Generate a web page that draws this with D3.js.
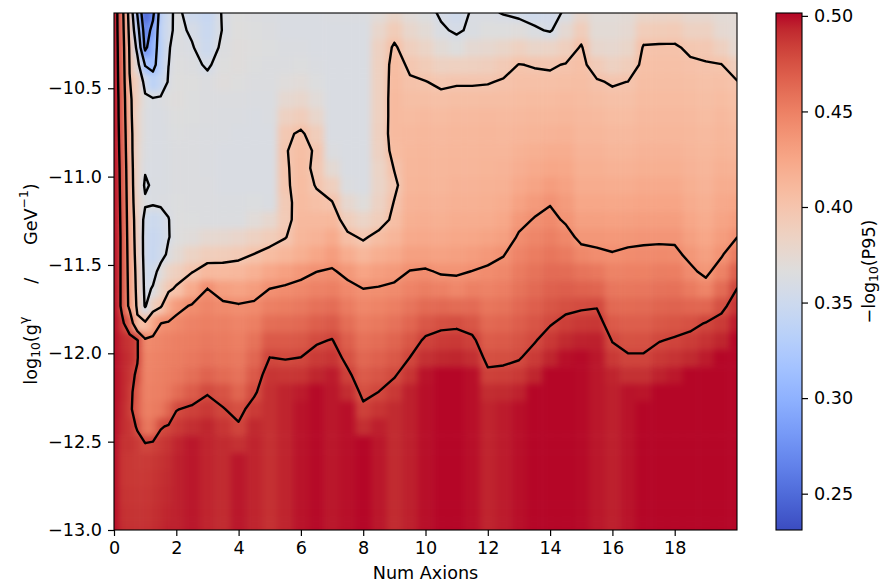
<!DOCTYPE html>
<html><head><meta charset="utf-8">
<script src="https://cdn.jsdelivr.net/npm/d3@7"></script>
<style>
html,body{margin:0;padding:0;background:#fff;}
svg{display:block;font-family:"DejaVu Sans",sans-serif;}
</style></head>
<body>
<svg id="chart" width="885" height="585"></svg>
<script>
// ---------------- data ----------------
// grid node positions (Num Axions, log10 g)
const xNodes = [0,0.25,0.5,0.75,1,1.25,1.5,1.75,2,2.5,3,3.5,4,4.5,5,5.5,6,6.5,7,7.5,8,8.5,9,9.5,10,10.5,11,11.5,12,12.5,13,13.5,14,14.5,15,15.5,16,16.5,17,17.5,18,18.5,19,19.5,20];
const yNodes = [-13.0,-12.902,-12.805,-12.707,-12.610,-12.512,-12.415,-12.317,-12.220,-12.122,-12.025,-11.927,-11.830,-11.732,-11.635,-11.537,-11.440,-11.342,-11.244,-11.147,-11.049,-10.952,-10.854,-10.757,-10.659,-10.562,-10.464,-10.367,-10.269,-10.172,-10.074];
// -log10(P95): one column per x node, values from y=-13 (bottom) to top
const logP95 = [
[.500,.500,.500,.500,.500,.500,.500,.500,.500,.500,.500,.500,.500,.500,.500,.500,.500,.500,.500,.500,.500,.500,.500,.500,.500,.500,.500,.500,.500,.500,.500],
[.491,.490,.489,.488,.488,.489,.492,.493,.494,.494,.494,.492,.485,.476,.476,.476,.476,.476,.475,.474,.473,.472,.470,.468,.466,.465,.462,.460,.458,.455,.453],
[.490,.489,.488,.487,.487,.489,.488,.485,.486,.488,.490,.488,.466,.432,.430,.428,.426,.424,.422,.420,.418,.416,.413,.411,.408,.405,.401,.399,.397,.392,.387],
[.490,.489,.488,.487,.486,.486,.478,.468,.470,.476,.482,.482,.405,.395,.392,.390,.387,.385,.384,.380,.378,.378,.378,.380,.380,.385,.3885,.370,.352,.335,.318],
[.490,.489,.488,.487,.486,.481,.455,.450,.449,.448,.447,.4438,.4044,.357,.354,.352,.350,.350,.352,.363,.357,.362,.363,.364,.364,.365,.350,.318,.272,.262,.245],
[.491,.490,.489,.488,.487,.4832,.458,.452,.450,.449,.448,.4452,.424,.388,.362,.352,.345,.346,.349,.362,.363,.362,.362,.362,.362,.362,.335,.310,.305,.290,.272],
[.493,.492,.491,.490,.489,.486,.4787,.455,.451,.450,.449,.4467,.4398,.397,.380,.368,.352,.350,.352,.363,.362,.362,.362,.362,.362,.363,.345,.338,.335,.340,.338],
[.495,.494,.493,.492,.491,.489,.4816,.465,.455,.452,.451,.4488,.442,.420,.3955,.382,.364,.359,.3595,.363,.363,.363,.363,.363,.364,.366,.362,.3598,.359,.354,.352],
[.495,.495,.495,.495,.495,.494,.4864,.4793,.462,.455,.452,.4505,.4455,.4338,.4031,.388,.373,.367,.366,.365,.364,.364,.364,.365,.366,.368,.367,.366,.364,.365,.366],
[.497,.497,.497,.497,.497,.497,.4904,.4832,.470,.460,.455,.452,.449,.442,.4213,.3985,.3835,.369,.365,.364,.364,.364,.364,.364,.365,.365,.366,.364,.3615,.3574,.350],
[.494,.494,.494,.494,.494,.494,.4936,.4864,.4787,.466,.458,.454,.451,.4466,.4401,.410,.3895,.3745,.364,.364,.364,.363,.363,.363,.364,.364,.364,.358,.350,.348,.345],
[.492,.492,.492,.492,.492,.492,.488,.4808,.4744,.462,.456,.453,.450,.4438,.4306,.4094,.391,.376,.364,.363,.362,.362,.362,.363,.363,.364,.368,.366,.364,.361,.362],
[.497,.497,.497,.497,.497,.4896,.4816,.4759,.465,.458,.454,.451,.4475,.4417,.4273,.4109,.394,.379,.364,.363,.362,.362,.362,.362,.363,.364,.366,.368,.368,.367,.366],
[.494,.494,.494,.494,.494,.494,.4928,.4856,.4779,.4709,.4638,.4575,.4505,.4435,.4317,.4167,.4005,.385,.370,.3645,.362,.362,.362,.362,.362,.363,.364,.365,.366,.365,.364],
[.490,.490,.490,.490,.490,.490,.490,.490,.490,.488,.4802,.4708,.4605,.4503,.4401,.4243,.407,.391,.376,.3625,.362,.362,.362,.362,.363,.363,.364,.364,.365,.364,.363],
[.494,.494,.494,.494,.494,.494,.494,.494,.494,.4872,.4791,.4707,.4614,.4521,.4428,.4296,.4122,.399,.393,.394,.397,.398,.399,.396,.385,.375,.368,.364,.363,.362,.362],
[.498,.498,.498,.498,.498,.498,.498,.498,.496,.488,.4802,.472,.4631,.4542,.4453,.435,.418,.412,.410,.408,.407,.406,.405,.403,.390,.378,.370,.365,.363,.362,.362],
[.500,.500,.500,.500,.500,.500,.500,.500,.500,.4936,.4856,.478,.4683,.4585,.4488,.4398,.425,.415,.410,.404,.399,.396,.398,.390,.378,.370,.365,.363,.362,.362,.362],
[.497,.497,.497,.497,.497,.497,.497,.497,.497,.496,.488,.4808,.471,.461,.451,.442,.4318,.4215,.4113,.401,.388,.373,.364,.362,.362,.362,.362,.362,.362,.362,.363],
[.499,.499,.499,.499,.499,.499,.499,.499,.4912,.4832,.4753,.4682,.4604,.4525,.4447,.4354,.420,.4046,.3895,.376,.364,.362,.362,.362,.362,.362,.362,.362,.362,.362,.363],
[.501,.501,.501,.501,.501,.501,.4904,.4832,.4763,.4702,.464,.4585,.4523,.4462,.4401,.4267,.4119,.397,.382,.3685,.362,.362,.362,.362,.362,.362,.362,.362,.362,.362,.363],
[.497,.497,.497,.497,.497,.497,.4952,.488,.4802,.4734,.4669,.461,.4544,.4479,.4413,.4313,.4188,.4063,.390,.384,.381,.382,.385,.387,.386,.386,.386,.386,.385,.378,.370],
[.492,.492,.492,.492,.492,.492,.492,.492,.4864,.4786,.4714,.465,.4579,.4507,.4436,.434,.422,.413,.405,.401,.396,.401,.407,.409,.409,.409,.408,.407,.403,.392,.380],
[.495,.495,.495,.495,.495,.495,.495,.495,.495,.488,.4802,.4727,.4645,.4563,.4482,.4406,.430,.422,.418,.415,.413,.412,.411,.410,.408,.405,.402,.397,.388,.378,.370],
[.499,.499,.499,.499,.499,.499,.499,.499,.499,.498,.4896,.4824,.4726,.4621,.4516,.4421,.430,.423,.419,.416,.414,.413,.412,.411,.409,.405,.4005,.392,.382,.372,.365],
[.501,.501,.501,.501,.501,.501,.501,.501,.501,.501,.4928,.4856,.476,.4627,.4493,.438,.428,.422,.418,.415,.413,.412,.411,.410,.408,.404,.397,.385,.372,.362,.358],
[.501,.501,.501,.501,.501,.501,.501,.501,.501,.501,.4936,.4864,.4769,.4615,.4462,.438,.430,.424,.420,.417,.415,.413,.412,.411,.409,.405,.3985,.386,.366,.358,.352],
[.499,.499,.499,.499,.499,.499,.499,.499,.499,.499,.4904,.4832,.4731,.4617,.4503,.4403,.432,.425,.420,.417,.415,.413,.412,.411,.409,.405,.3985,.387,.374,.3625,.362],
[.494,.494,.494,.494,.494,.494,.494,.494,.4912,.4832,.4759,.4697,.4628,.4559,.449,.4428,.435,.427,.421,.418,.416,.414,.413,.412,.410,.406,.399,.389,.376,.366,.362],
[.496,.496,.496,.496,.496,.496,.496,.496,.492,.484,.4767,.4708,.4643,.4577,.4511,.4452,.4392,.430,.424,.420,.417,.415,.413,.411,.409,.406,.4015,.394,.380,.366,.3594],
[.499,.499,.499,.499,.499,.499,.499,.499,.4944,.4864,.4789,.474,.4686,.4632,.4578,.453,.4476,.4422,.435,.428,.423,.419,.416,.413,.410,.407,.404,.4005,.386,.368,.356],
[.501,.501,.501,.501,.501,.501,.501,.501,.501,.4936,.4856,.4789,.4734,.468,.4625,.4575,.4521,.4466,.4411,.434,.427,.422,.418,.414,.411,.408,.404,.399,.380,.363,.352],
[.501,.501,.501,.501,.501,.501,.501,.501,.501,.501,.4936,.4864,.4788,.473,.4671,.4618,.4559,.450,.4441,.439,.432,.425,.420,.415,.411,.408,.404,.398,.382,.358,.355],
[.501,.501,.501,.501,.501,.501,.501,.501,.501,.501,.499,.492,.484,.4761,.4686,.4616,.4533,.4455,.438,.433,.428,.424,.420,.416,.412,.409,.405,.401,.388,.374,.362],
[.500,.500,.500,.500,.500,.500,.500,.500,.500,.500,.500,.4944,.4864,.4778,.4667,.4567,.4456,.436,.430,.425,.421,.418,.415,.412,.410,.408,.406,.404,.402,.390,.378],
[.497,.497,.497,.497,.497,.497,.497,.497,.497,.497,.497,.495,.4872,.4788,.465,.455,.4425,.436,.430,.425,.421,.418,.415,.412,.409,.406,.4016,.3925,.3775,.372,.370],
[.495,.495,.495,.495,.495,.495,.495,.495,.495,.494,.4864,.4792,.4706,.4627,.4557,.4486,.4408,.435,.429,.424,.420,.416,.413,.410,.407,.404,.3985,.385,.376,.372,.370],
[.498,.498,.498,.498,.498,.498,.498,.498,.498,.4896,.4816,.4753,.4687,.462,.4553,.4493,.4427,.436,.430,.425,.420,.416,.413,.410,.407,.404,.4002,.390,.380,.375,.372],
[.501,.501,.501,.501,.501,.501,.501,.501,.4976,.4896,.4816,.4754,.4688,.4623,.4557,.4498,.4433,.437,.431,.426,.422,.418,.415,.412,.410,.408,.406,.404,.4015,.391,.380],
[.501,.501,.501,.501,.501,.501,.501,.501,.501,.4944,.4864,.4793,.4721,.465,.4579,.4514,.4443,.437,.431,.426,.422,.418,.415,.412,.410,.408,.406,.404,.402,.392,.381],
[.501,.501,.501,.501,.501,.501,.501,.501,.501,.4968,.4888,.4816,.4737,.466,.4584,.4513,.4435,.437,.431,.426,.422,.418,.415,.412,.410,.408,.406,.404,.402,.393,.382],
[.501,.501,.501,.501,.501,.501,.501,.501,.501,.501,.492,.4848,.4756,.4644,.4533,.4433,.436,.430,.425,.421,.418,.415,.413,.411,.409,.407,.405,.4025,.397,.385,.376],
[.501,.501,.501,.501,.501,.501,.501,.501,.501,.501,.496,.4888,.4808,.4643,.447,.436,.430,.425,.421,.418,.415,.413,.411,.409,.407,.405,.403,.401,.396,.385,.376],
[.501,.501,.501,.501,.501,.501,.501,.501,.501,.501,.501,.4936,.4856,.4757,.4614,.4486,.438,.432,.427,.423,.420,.417,.414,.412,.410,.407,.404,.4005,.387,.375,.372],
[.501,.501,.501,.501,.501,.501,.501,.501,.501,.501,.501,.501,.496,.488,.4802,.4671,.4529,.4396,.432,.426,.421,.417,.413,.410,.407,.404,.401,.389,.375,.372,.372]
];
const contourLevels = [0.24, 0.28, 0.32, 0.36, 0.40, 0.44, 0.48];
const xTickValues = [0, 2, 4, 6, 8, 10, 12, 14, 16, 18];
const yTickValues = [-13.0, -12.5, -12.0, -11.5, -11.0, -10.5];
const cbTickValues = [0.25, 0.30, 0.35, 0.40, 0.45, 0.50];
const colorRange = [0.231, 0.5015];

// matplotlib "coolwarm" colormap (33 stops)
const coolwarmStops = [
[0.2298057,0.298717966,0.753683153],[0.26623388,0.353094838,0.801466763],[0.30386891,0.406535296,0.84495867],
[0.342804478,0.458757618,0.883725899],[0.38301334,0.50941904,0.917387822],[0.424369608,0.558148092,0.945619588],
[0.46666708,0.604562568,0.968154911],[0.509635204,0.648280772,0.98478814],[0.552953156,0.688929332,0.995375608],
[0.596262162,0.726149107,0.999836203],[0.639176211,0.759599947,0.998151185],[0.681291281,0.788964712,0.990363227],
[0.722193294,0.813952739,0.976574709],[0.761464949,0.834302879,0.956945269],[0.798691636,0.849786142,0.931688648],
[0.833466556,0.860207984,0.901068838],[0.865395197,0.86541021,0.865395561],[0.897787179,0.848937047,0.820880546],
[0.924127593,0.827384882,0.774508472],[0.944468518,0.800927443,0.726736146],[0.958852946,0.769767752,0.678007945],
[0.96732803,0.734132809,0.628751763],[0.969954137,0.694266682,0.579375448],[0.966811177,0.650421156,0.530263762],
[0.958003065,0.602842431,0.481775914],[0.943660866,0.551750968,0.434243684],[0.923944917,0.49730856,0.387970225],
[0.89904617,0.439559467,0.343229596],[0.869186849,0.378313092,0.300267182],[0.834620542,0.312874446,0.259301199],
[0.795631745,0.24128379,0.220525627],[0.752534934,0.157246067,0.184115123],[0.705673158,0.01555616,0.150232812]
];

logP95.forEach((c, i) => { if (c.length !== yNodes.length) throw new Error("column " + i + " has " + c.length); });
if (logP95.length !== xNodes.length) throw new Error("columns " + logP95.length);

// ---------------- layout ----------------
const W = 885, H = 585;
const plot = {left: 114, right: 737, top: 13, bottom: 530};
const cb = {left: 776, right: 802};
const FS = 17.6;

const svg = d3.select("#chart");
svg.append("rect").attr("width", W).attr("height", H).attr("fill", "#fff");

const x = d3.scaleLinear().domain([0, 20]).range([plot.left, plot.right]);
const y = d3.scaleLinear().domain([yNodes[0], yNodes[yNodes.length - 1]]).range([plot.bottom, plot.top]);

const stopHex = coolwarmStops.map(s => d3.rgb(s[0] * 255, s[1] * 255, s[2] * 255).formatHex());
const stopVals = stopHex.map((_, i) => colorRange[0] + i / (stopHex.length - 1) * (colorRange[1] - colorRange[0]));
const color = d3.scaleLinear().domain(stopVals).range(stopHex).interpolate(d3.interpolateRgb).clamp(true);

const defs = svg.append("defs");
defs.append("clipPath").attr("id", "plotClip").append("rect")
  .attr("x", plot.left).attr("y", plot.top)
  .attr("width", plot.right - plot.left).attr("height", plot.bottom - plot.top);
const blur = defs.append("filter").attr("id", "soften")
  .attr("filterUnits", "userSpaceOnUse")
  .attr("x", plot.left - 40).attr("y", plot.top - 40)
  .attr("width", plot.right - plot.left + 80).attr("height", plot.bottom - plot.top + 80)
  .attr("color-interpolation-filters", "sRGB");
blur.append("feGaussianBlur").attr("stdDeviation", 3.0);

// heatmap cells (edge cells run past the frame so softening does not fade the border)
const pad = 1.2;
const cells = [];
xNodes.forEach((xv, i) => {
  const xl = i === 0 ? xv - pad : (xNodes[i - 1] + xv) / 2;
  const xr = i === xNodes.length - 1 ? xv + pad : (xv + xNodes[i + 1]) / 2;
  yNodes.forEach((yv, k) => {
    const yb = k === 0 ? yv - 0.2 : (yNodes[k - 1] + yv) / 2;
    const yt = k === yNodes.length - 1 ? yv + 0.2 : (yv + yNodes[k + 1]) / 2;
    cells.push({xl, xr, yb, yt, v: logP95[i][k]});
  });
});
const gHeat = svg.append("g").attr("clip-path", "url(#plotClip)")
  .append("g").attr("filter", "url(#soften)");
gHeat.selectAll("rect").data(cells).join("rect")
  .attr("x", d => x(d.xl)).attr("y", d => y(d.yt))
  .attr("width", d => x(d.xr) - x(d.xl) + 0.5).attr("height", d => y(d.yb) - y(d.yt) + 0.5)
  .attr("fill", d => color(d.v));

// contour lines (marching squares on the node grid)
function isoSegments(level) {
  const segs = [];
  for (let i = 0; i < xNodes.length - 1; i++) {
    for (let k = 0; k < yNodes.length - 1; k++) {
      const a = logP95[i][k], b = logP95[i + 1][k], c = logP95[i + 1][k + 1], d = logP95[i][k + 1];
      const x0 = xNodes[i], x1 = xNodes[i + 1], y0 = yNodes[k], y1 = yNodes[k + 1];
      const p = {};
      if ((a > level) !== (b > level)) p.bottom = [x0 + (level - a) / (b - a) * (x1 - x0), y0];
      if ((b > level) !== (c > level)) p.right = [x1, y0 + (level - b) / (c - b) * (y1 - y0)];
      if ((d > level) !== (c > level)) p.top = [x0 + (level - d) / (c - d) * (x1 - x0), y1];
      if ((a > level) !== (d > level)) p.left = [x0, y0 + (level - a) / (d - a) * (y1 - y0)];
      const keys = Object.keys(p);
      if (keys.length === 2) segs.push([p[keys[0]], p[keys[1]]]);
      else if (keys.length === 4) {
        const center = (a + b + c + d) / 4;
        if ((center > level) === (a > level)) { segs.push([p.bottom, p.right]); segs.push([p.top, p.left]); }
        else { segs.push([p.bottom, p.left]); segs.push([p.right, p.top]); }
      }
    }
  }
  return segs;
}
const gCont = svg.append("g").attr("clip-path", "url(#plotClip)");
contourLevels.forEach(level => {
  const path = d3.path();
  isoSegments(level).forEach(([s, e]) => { path.moveTo(x(s[0]), y(s[1])); path.lineTo(x(e[0]), y(e[1])); });
  gCont.append("path").attr("d", path.toString())
    .attr("fill", "none").attr("stroke", "#000").attr("stroke-width", 2.4)
    .attr("stroke-linecap", "round").attr("stroke-linejoin", "round");
});

// frame
svg.append("rect").attr("x", plot.left).attr("y", plot.top)
  .attr("width", plot.right - plot.left).attr("height", plot.bottom - plot.top)
  .attr("fill", "none").attr("stroke", "#000").attr("stroke-width", 1.1);

function styleAxis(g) {
  g.select(".domain").remove();
  g.selectAll(".tick line").attr("stroke", "#000").attr("stroke-width", 1.2);
  g.selectAll(".tick text").attr("fill", "#000").attr("font-size", FS).attr("font-family", "DejaVu Sans");
}
const fmtMinus = s => s.replace("-", "\u2212");
svg.append("g").attr("transform", `translate(0,${plot.bottom})`)
  .call(d3.axisBottom(x).tickValues(xTickValues).tickFormat(d3.format("d")).tickSize(6).tickPadding(6))
  .call(styleAxis);
svg.append("g").attr("transform", `translate(${plot.left},0)`)
  .call(d3.axisLeft(y).tickValues(yTickValues).tickFormat(d => fmtMinus(d3.format(".1f")(d))).tickSize(6).tickPadding(6))
  .call(styleAxis);

// axis labels
svg.append("text").attr("x", (plot.left + plot.right) / 2).attr("y", 579)
  .attr("text-anchor", "middle").attr("font-size", FS).attr("fill", "#000").text("Num Axions");

const SS = FS * 0.7;
const yl = svg.append("text").attr("transform", `translate(31,284) rotate(-90)`)
  .attr("text-anchor", "middle").attr("dominant-baseline", "central").attr("font-size", FS).attr("fill", "#000");
yl.append("tspan").text("log");
yl.append("tspan").attr("font-size", SS).attr("dy", 4.5).text("10");
yl.append("tspan").attr("font-size", FS).attr("dy", -4.5).text("(g");
yl.append("tspan").attr("font-size", SS).attr("dy", -7).text("γ");
yl.append("tspan").attr("font-size", FS).attr("dy", 7).attr("dx", 33).text("/");
yl.append("tspan").attr("font-size", FS).attr("dx", 33).text("GeV");
yl.append("tspan").attr("font-size", SS).attr("dy", -7).text("\u22121");
yl.append("tspan").attr("font-size", FS).attr("dy", 7).text(")");

// colorbar
const cbScale = d3.scaleLinear().domain(colorRange).range([plot.bottom, plot.top]);
const grad = defs.append("linearGradient").attr("id", "cbGrad")
  .attr("x1", 0).attr("y1", 1).attr("x2", 0).attr("y2", 0);
stopVals.forEach((v, i) => grad.append("stop")
  .attr("offset", i / (stopVals.length - 1)).attr("stop-color", color(v)));
svg.append("rect").attr("x", cb.left).attr("y", plot.top)
  .attr("width", cb.right - cb.left).attr("height", plot.bottom - plot.top)
  .attr("fill", "url(#cbGrad)").attr("stroke", "#000").attr("stroke-width", 1.1);
svg.append("g").attr("transform", `translate(${cb.right},0)`)
  .call(d3.axisRight(cbScale).tickValues(cbTickValues).tickFormat(d3.format(".2f")).tickSize(6).tickPadding(6))
  .call(styleAxis);
const cl = svg.append("text").attr("transform", `translate(869,${(plot.top + plot.bottom) / 2}) rotate(-90)`)
  .attr("text-anchor", "middle").attr("dominant-baseline", "central").attr("font-size", FS).attr("fill", "#000");
cl.append("tspan").text("\u2212log");
cl.append("tspan").attr("font-size", SS).attr("dy", 4.5).text("10");
cl.append("tspan").attr("font-size", FS).attr("dy", -4.5).text("(P95)");
</script>
</body></html>
